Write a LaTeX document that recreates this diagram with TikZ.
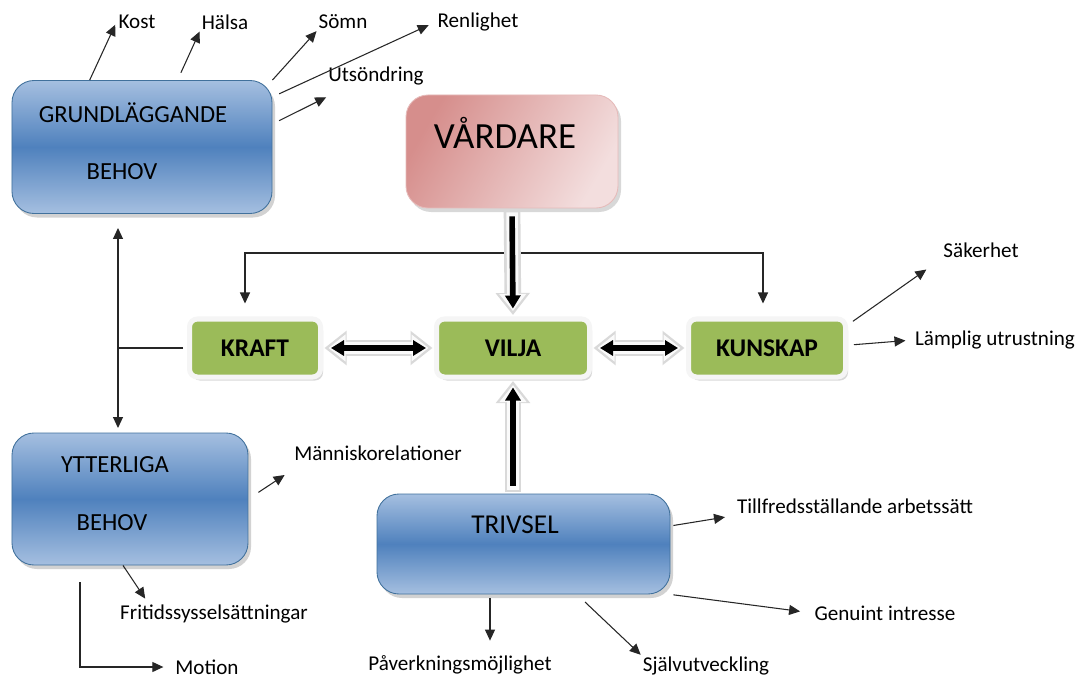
\documentclass[tikz,border=0pt]{standalone}
\usepackage{fontspec}
\setmainfont{Carlito}
\usetikzlibrary{arrows.meta,shadows,positioning}
\definecolor{needblue}{HTML}{4F81BD}
\definecolor{needbluelight}{HTML}{A5BFE0}
\definecolor{needblueedge}{HTML}{41719C}
\definecolor{abilitygreen}{HTML}{9BBB59}
\definecolor{carerpink}{HTML}{D68E8C}
\definecolor{carerpinklight}{HTML}{F3DEDE}

\tikzset{
  leaftip/.tip={Triangle[length=2.2mm,width=2mm]},
  pushtip/.tip={Triangle[length=2.6mm,width=3mm]},
  glowtip/.tip={Triangle[length=4.4mm,width=6.6mm]},
  glowinnertip/.tip={Triangle[length=3.4mm,width=5.2mm]}
}

\begin{document}
\begin{tikzpicture}[x=0.2mm, y=-0.2mm,
    needbox/.style={rectangle, rounded corners=4.4mm, draw=needblueedge, line width=0.5pt,
      top color=needbluelight, bottom color=needbluelight, middle color=needblue,
      drop shadow={shadow xshift=0.6mm, shadow yshift=-0.8mm, opacity=0.35}, inner sep=0pt},
    carerbox/.style={rectangle, rounded corners=4.4mm, draw=carerpink!60, line width=0.5pt,
      left color=carerpink, right color=carerpinklight, shading angle=60,
      drop shadow={shadow xshift=0.6mm, shadow yshift=-0.8mm, opacity=0.3}, inner sep=0pt},
    abilitybox/.style={rectangle, rounded corners=1.6mm, fill=abilitygreen, draw=gray!8,
      line width=1mm, minimum height=11.6mm, inner sep=0pt,
      font=\fontsize{14.5}{17}\selectfont\bfseries,
      drop shadow={shadow xshift=0.5mm, shadow yshift=-0.7mm, opacity=0.3}},
    boxtext/.style={font=\fontsize{14}{17}\selectfont, inner sep=0pt},
    leaf/.style={font=\fontsize{12}{14}\selectfont, inner sep=1pt},
    leafline/.style={line width=0.6pt, black!85},
    pushline/.style={line width=3.2pt, shorten >=1.6mm, shorten <=1.6mm},
    glowline/.style={line width=9.5pt, draw=gray!30, shorten >=0.3mm, shorten <=0.3mm},
    glowinner/.style={line width=6.5pt, draw=gray!4, shorten >=1.1mm, shorten <=0.8mm}
  ]
  \fill[white] (0,0) rectangle (1078,678);
  \useasboundingbox (0,0) rectangle (1078,678);

  % Main boxes
  \node[needbox, minimum width=52mm, minimum height=26.6mm] (grund) at (142,147) {};
  \node[boxtext] (grundtop) at (133,113) {GRUNDLÄGGANDE};
  \node[boxtext] (grundbot) at (122,172) {BEHOV};

  \node[carerbox, minimum width=42.4mm, minimum height=22.6mm] (vard) at (512,151.5) {};
  \node[font=\fontsize{21}{25}\selectfont, inner sep=0pt] (vardtext) at (505,133) {VÅRDARE};

  \node[needbox, minimum width=47.2mm, minimum height=26.4mm] (ytter) at (130,499) {};
  \node[boxtext] (yttertop) at (115,465) {YTTERLIGA};
  \node[boxtext] (ytterbot) at (112,523) {BEHOV};

  \node[needbox, minimum width=58.6mm, minimum height=20mm] (trivsel) at (523.5,544) {};
  \node[boxtext, font=\fontsize{15.5}{18}\selectfont] (trivseltext) at (515,525) {TRIVSEL};

  \node[abilitybox, minimum width=26.2mm] (kraft) at (255,348) {KRAFT};
  \node[abilitybox, minimum width=30.6mm] (vilja) at (513,348) {VILJA};
  \node[abilitybox, minimum width=31.4mm] (kunskap) at (767,348) {KUNSKAP};

  % Labels
  \node[leaf] (kost) at (137,22) {Kost};
  \node[leaf] (halsa) at (225,22) {Hälsa};
  \node[leaf] (somn) at (343,22) {Sömn};
  \node[leaf] (renlighet) at (478,22) {Renlighet};
  \node[leaf] (utsondring) at (376,76) {Utsöndring};
  \node[leaf] (sakerhet) at (981,250) {Säkerhet};
  \node[leaf] (lamplig) at (995,340) {Lämplig utrustning};
  \node[leaf] (manniska) at (378,453) {Människorelationer};
  \node[leaf] (fritid) at (214,614) {Fritidssysselsättningar};
  \node[leaf] (motion) at (207,667) {Motion};
  \node[leaf] (tillfreds) at (855,506) {Tillfredsställande arbetssätt};
  \node[leaf] (genuint) at (885,613) {Genuint intresse};
  \node[leaf] (paverkan) at (460,665) {Påverkningsmöjlighet};
  \node[leaf] (sjalv) at (706,666) {Självutveckling};

  % Thin connectors
  \coordinate (branch) at (512,253);
  \draw[leafline, -leaftip, shorten >=2.6mm] (branch) -| ([xshift=-2mm]kraft.north);
  \draw[leafline, -leaftip, shorten >=2.6mm] (branch) -| ([xshift=-0.8mm]kunskap.north);

  \coordinate (needtop) at (118,228);
  \coordinate (needbot) at (118,428);
  \draw[leafline, leaftip-leaftip] (needtop) -- (needbot);
  \draw[leafline, shorten <=0.8mm] (kraft.west) -- (kraft.west -| needtop);

  \draw[leafline, -leaftip, shorten >=0.6mm] (grund.128) -- (kost.west);
  \draw[leafline, -leaftip, shorten <=1.6mm] (grund.62) -- (halsa.south west);
  \draw[leafline, -leaftip] (grund.north east) -- (somn.south west);
  \draw[leafline, -leaftip, shorten <=1.5mm, shorten >=1.5mm] (grund.21) -- (renlighet.west);
  \draw[leafline, -leaftip, shorten <=1.5mm] (grund.10) -- ([yshift=-2mm]utsondring.south west);

  \draw[leafline, -leaftip, shorten <=1.2mm] (kunskap.16) -- ([xshift=-3mm,yshift=-2mm]sakerhet.south west);
  \draw[leafline, -leaftip, shorten <=1.2mm, shorten >=1.5mm] (kunskap.2) -- (lamplig.west);

  \draw[leafline, -leaftip, shorten <=2.4mm] (ytter.east) -- ([xshift=-1.5mm,yshift=-2.5mm]manniska.south west);
  \draw[leafline, -leaftip, shorten >=1mm] ([xshift=-1.4mm]ytter.south) -- ([xshift=-13.2mm]fritid.north);
  \draw[leafline, -leaftip, shorten >=2mm] ([xshift=-10mm]ytter.south) ++(0,17) |- (motion.west);

  \draw[leafline, -leaftip, shorten <=0.6mm, shorten >=2mm] (trivsel.7) -- (tillfreds.south west);
  \draw[leafline, -leaftip, shorten <=0.6mm, shorten >=2.5mm] (trivsel.south east) -- (genuint.west);
  \coordinate (pavtop) at ([xshift=-6.7mm]trivsel.south);
  \draw[leafline, -leaftip, shorten <=0.8mm, shorten >=2.6mm] (pavtop) -- (pavtop |- paverkan.north);
  \draw[leafline, -leaftip, shorten <=2.2mm] ([xshift=10.7mm]trivsel.south) -- (sjalv.north west);

  % Thick connectors
  \draw[glowline, -glowtip] (vard.south) -- (vilja.north);
  \draw[glowinner, -glowinnertip] (vard.south) -- (vilja.north);
  \draw[pushline, -pushtip] (vard.south) -- (vilja.north);
  \draw[glowline, -glowtip] (trivsel.north -| vilja.south) -- (vilja.south);
  \draw[glowinner, -glowinnertip] (trivsel.north -| vilja.south) -- (vilja.south);
  \draw[pushline, -pushtip] (trivsel.north -| vilja.south) -- (vilja.south);
  \draw[glowline, glowtip-glowtip] (kraft.east) -- (vilja.west);
  \draw[glowinner, glowinnertip-glowinnertip, shorten <=1.1mm] (kraft.east) -- (vilja.west);
  \draw[pushline, pushtip-pushtip] (kraft.east) -- (vilja.west);
  \draw[glowline, glowtip-glowtip] (vilja.east) -- (kunskap.west);
  \draw[glowinner, glowinnertip-glowinnertip, shorten <=1.1mm] (vilja.east) -- (kunskap.west);
  \draw[pushline, pushtip-pushtip] (vilja.east) -- (kunskap.west);
\end{tikzpicture}
\end{document}
